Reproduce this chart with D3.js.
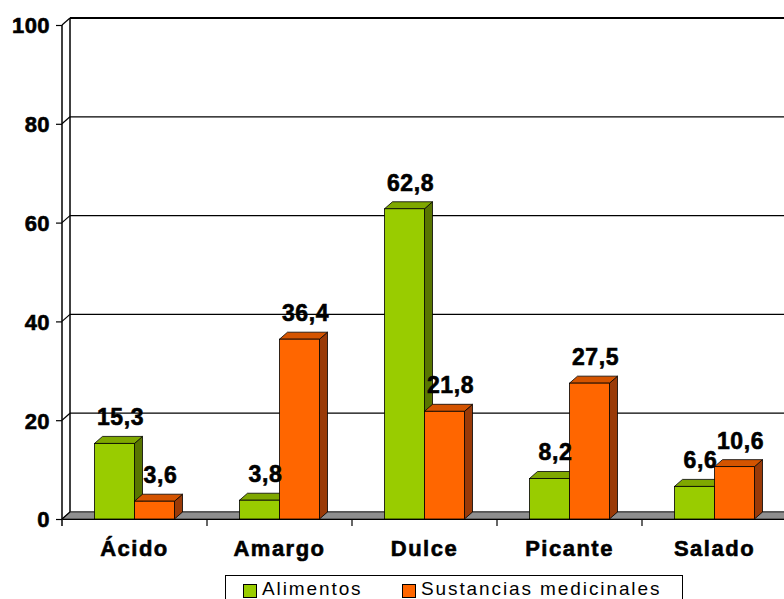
<!DOCTYPE html>
<html>
<head>
<meta charset="utf-8">
<script src="https://cdn.jsdelivr.net/npm/d3@7/dist/d3.min.js"></script>
<style>
  html, body { margin: 0; padding: 0; background: #fff; }
  svg { display: block; }
  text { font-family: "Liberation Sans", Arial, sans-serif; }
  .heavy { stroke: #000; stroke-width: 0.6px; paint-order: stroke; }
</style>
</head>
<body>
<svg id="chart" width="784" height="599"></svg>
<script>
// Sabores por tipo de producto (%)
const categories = ["Ácido", "Amargo", "Dulce", "Picante", "Salado"];
const series = ["Alimentos", "Sustancias medicinales"];
const alimentos = [15.3, 3.8, 62.8, 8.2, 6.6];
const medicinales = [3.6, 36.4, 21.8, 27.5, 10.6];
const yTicks = [0, 20, 40, 60, 80, 100];

const palette = {
  "Alimentos": { front: "#99CC00", top: "#7FA800", side: "#587500" },
  "Sustancias medicinales": { front: "#FF6600", top: "#D45400", side: "#9A3A08" }
};

const W = 784, H = 599;
const depthX = 8, depthY = -7;          // 3D offset of the back wall
const plotLeft = 62, plotRight = 787, plotBase = 519, plotTop = 25;

const svg = d3.select("#chart");

const x = d3.scaleBand().domain(categories).range([plotLeft, plotRight]).paddingInner(0).paddingOuter(0);
const xIn = d3.scaleBand().domain(series).range([0, x.bandwidth()]).paddingInner(0).paddingOuter(0.8125);
const y = d3.scaleLinear().domain([0, 100]).range([plotBase, plotTop]);

const fmt = v => v.toFixed(1).replace(".", ",");

// back wall gridlines
svg.append("g").selectAll("line").data(yTicks).join("line")
  .attr("x1", plotLeft + depthX).attr("x2", W + 10)
  .attr("y1", d => y(d) + depthY).attr("y2", d => y(d) + depthY)
  .attr("stroke", "#000").attr("stroke-width", d => d === 100 ? 2 : 1.2);

// left wall back edge
svg.append("line")
  .attr("x1", plotLeft + depthX).attr("x2", plotLeft + depthX)
  .attr("y1", y(100) + depthY).attr("y2", y(0) + depthY)
  .attr("stroke", "#000").attr("stroke-width", 1.5);

// floor
svg.append("path")
  .attr("d", `M${plotLeft},${y(0)} L${plotLeft + depthX},${y(0) + depthY} L${W + 10},${y(0) + depthY} L${W + 10},${y(0)} Z`)
  .attr("fill", "#8f8f8f").attr("stroke", "#333").attr("stroke-width", 1);

// left wall diagonals at each tick
svg.append("g").selectAll("line").data(yTicks).join("line")
  .attr("x1", plotLeft).attr("x2", plotLeft + depthX)
  .attr("y1", d => y(d)).attr("y2", d => y(d) + depthY)
  .attr("stroke", "#000").attr("stroke-width", 1.2);

// y axis (front)
const yAxis = d3.axisLeft(y).tickValues(yTicks).tickSize(6).tickPadding(6).tickFormat(d3.format("d"));
const gy = svg.append("g").attr("transform", `translate(${plotLeft},0)`).call(yAxis);
gy.select(".domain").attr("d", `M-0,${y(100)}V${y(0) + 7}`).attr("stroke", "#000").attr("stroke-width", 1.5);
gy.selectAll(".tick line").attr("stroke", "#000").attr("stroke-width", 1.2);
gy.selectAll(".tick text")
  .attr("class", "heavy")
  .attr("font-size", 22).attr("font-weight", "bold").attr("fill", "#000")
  .attr("letter-spacing", 0.4).attr("dy", "0.36em");

// x axis (front)
const xAxis = d3.axisBottom(x).tickSize(0).tickPadding(0);
const gx = svg.append("g").attr("transform", `translate(0,${plotBase})`).call(xAxis);
gx.select(".domain").attr("stroke", "#000").attr("stroke-width", 1.2);
gx.selectAll(".tick text")
  .attr("class", "heavy")
  .attr("font-size", 22).attr("font-weight", "bold").attr("fill", "#000")
  .attr("letter-spacing", 1.5).attr("y", 37).attr("dy", 0);
// category separators
svg.append("g").selectAll("line").data(categories.slice(1)).join("line")
  .attr("x1", d => x(d)).attr("x2", d => x(d))
  .attr("y1", plotBase).attr("y2", plotBase + 7)
  .attr("stroke", "#000").attr("stroke-width", 1.2);

// bars
const rows = categories.map((c, i) => ({ cat: c, values: [
  { s: series[0], v: alimentos[i] },
  { s: series[1], v: medicinales[i] }
]}));

const groups = svg.append("g").selectAll("g").data(rows).join("g")
  .attr("transform", d => `translate(${x(d.cat)},0)`);

groups.each(function (row) {
  const g = d3.select(this);
  row.values.forEach(d => {
    const x0 = xIn(d.s), x1 = x0 + xIn.bandwidth();
    const yt = y(d.v), yb = y(0);
    const c = palette[d.s];
    // side face
    g.append("path")
      .attr("d", `M${x1},${yt} L${x1 + depthX},${yt + depthY} L${x1 + depthX},${yb + depthY} L${x1},${yb} Z`)
      .attr("fill", c.side).attr("stroke", "#000").attr("stroke-width", 0.8).attr("stroke-linejoin", "round");
    // top face
    g.append("path")
      .attr("d", `M${x0},${yt} L${x0 + depthX},${yt + depthY} L${x1 + depthX},${yt + depthY} L${x1},${yt} Z`)
      .attr("fill", c.top).attr("stroke", "#000").attr("stroke-width", 0.8).attr("stroke-linejoin", "round");
    // front face
    g.append("rect")
      .attr("x", x0).attr("y", yt).attr("width", x1 - x0).attr("height", yb - yt)
      .attr("fill", c.front).attr("stroke", "#000").attr("stroke-width", 0.8);
  });
});

// value labels
groups.each(function (row) {
  const g = d3.select(this);
  row.values.forEach(d => {
    const cx = xIn(d.s) + xIn.bandwidth() / 2 + 6;
    g.append("text")
      .attr("class", "heavy")
      .attr("x", cx).attr("y", y(d.v) - 18)
      .attr("text-anchor", "middle")
      .attr("font-size", 23).attr("font-weight", "bold").attr("letter-spacing", 0.6)
      .attr("fill", "#000")
      .text(fmt(d.v));
  });
});

// legend
const legend = svg.append("g");
legend.append("rect")
  .attr("x", 225.5).attr("y", 575.5).attr("width", 457).attr("height", 40)
  .attr("fill", "#fff").attr("stroke", "#000").attr("stroke-width", 1);
const legendItems = [
  { s: series[0], x: 243 },
  { s: series[1], x: 402 }
];
legend.selectAll("g").data(legendItems).join("g").each(function (d) {
  const g = d3.select(this);
  g.append("rect")
    .attr("x", d.x + 0.5).attr("y", 584.5).attr("width", 13).attr("height", 13)
    .attr("fill", palette[d.s].front).attr("stroke", "#000").attr("stroke-width", 1);
  g.append("text")
    .attr("x", d.x + 19).attr("y", 595)
    .attr("font-size", 19).attr("letter-spacing", 1.9).attr("fill", "#000")
    .text(d.s);
});
</script>
</body>
</html>
